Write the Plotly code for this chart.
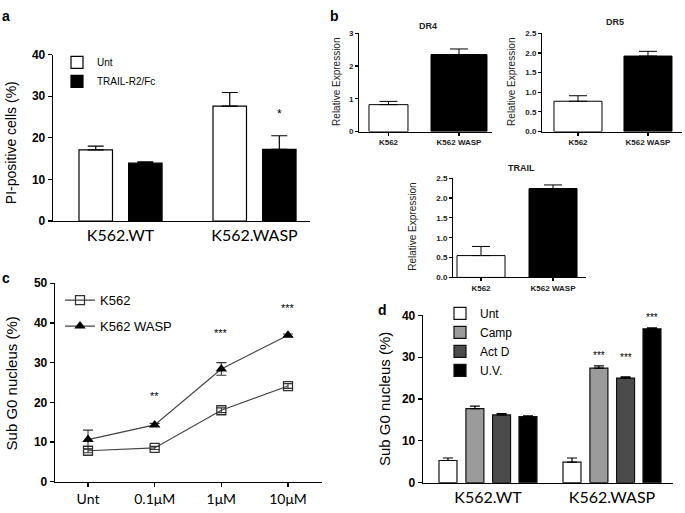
import plotly.graph_objects as go

W, H = 685, 513

# ---------------- data ----------------
# panel a
a_groups = ["K562.WT", "K562.WASP"]
a_unt = [17.1, 27.6]
a_unt_err = [0.9, 3.3]
a_trail = [13.9, 17.2]
a_trail_err = [0.3, 3.3]
a_sig = ["", "*"]
a_sig_y = [0, 28.0]

# panel b
b_cells = ["K562", "K562 WASP"]
dr4 = [0.82, 2.35]
dr4_err = [0.10, 0.17]
dr5 = [0.77, 1.92]
dr5_err = [0.14, 0.12]
trail = [0.55, 2.24]
trail_err = [0.23, 0.09]

# panel c
c_doses = ["Unt", "0.1μM", "1μM", "10μM"]
c_k562 = [7.8, 8.5, 18.0, 24.1]
c_k562_err = [0.5, 0.4, 0.6, 0.6]
c_wasp = [10.6, 14.3, 28.4, 36.9]
c_wasp_err = [2.4, 0.4, 1.6, 0.3]
c_sig = ["", "**", "***", "***"]
c_sig_y = [0, 21.6, 39.5, 45.9]

# panel d
d_groups = ["K562.WT", "K562.WASP"]
d_treat = ["Unt", "Camp", "Act D", "U.V."]
d_wt = [5.3, 17.7, 16.2, 15.8]
d_wt_err = [0.6, 0.6, 0.3, 0.2]
d_wasp = [4.9, 27.4, 25.0, 36.8]
d_wasp_err = [1.0, 0.5, 0.3, 0.2]
d_sig = ["", "***", "***", "***"]
d_sig_y = [0, 32.3, 31.7, 41.2]

# ---------------- helpers ----------------
def xdom(l, r):
    return [l / W, r / W]


def ydom(t, b):
    return [1 - b / H, 1 - t / H]


ARIAL = "Liberation Sans, Arial, sans-serif"
CAL = "Lato, Open Sans, sans-serif"

fig = go.Figure()
line_k = dict(color="black", width=1.2)


def err(arr):
    return dict(type="data", symmetric=False, array=arr, arrayminus=[0] * len(arr),
                color="black", thickness=1.2, width=8)


# ---------------- panel a ----------------
a_w = 0.25
a_offs = [-0.31, 0.06]
fig.add_trace(go.Bar(x=a_groups, y=a_unt, name="Unt", width=a_w, offset=a_offs[0],
                     marker=dict(color="white", line=line_k), error_y=err(a_unt_err),
                     xaxis="x", yaxis="y", legend="legend"))
fig.add_trace(go.Bar(x=a_groups, y=a_trail, name="TRAIL-R2/Fc", width=a_w, offset=a_offs[1],
                     marker=dict(color="black", line=line_k), error_y=err(a_trail_err),
                     xaxis="x", yaxis="y", legend="legend"))

# ---------------- panel b ----------------
b_specs = [
    ("x2", "y2", dr4, dr4_err, [0.553, 0.794]),
    ("x3", "y3", dr5, dr5_err, [0.686, 0.686]),
    ("x4", "y4", trail, trail_err, [0.667, 0.667]),
]
for xa, ya, vals, errs, widths in b_specs:
    fig.add_trace(go.Bar(x=b_cells, y=vals, width=widths, showlegend=False,
                         marker=dict(color=["white", "black"], line=dict(color="black", width=1.0)),
                         error_y=dict(type="data", symmetric=False, array=errs, arrayminus=[0, 0],
                                      color="black", thickness=1.0, width=9),
                         xaxis=xa, yaxis=ya))

# ---------------- panel c ----------------
fig.add_trace(go.Scatter(x=c_doses, y=c_k562, name="K562", mode="lines+markers", legendgroup="k",
                         line=dict(color="#444", width=1.2),
                         marker=dict(symbol="square-open", size=9, color="#333", line=dict(width=1.3)),
                         error_y=dict(type="data", array=c_k562_err, color="#333", thickness=1.1, width=5),
                         xaxis="x5", yaxis="y5", legend="legend2"))
fig.add_trace(go.Scatter(x=c_doses, y=c_wasp, name="K562 WASP", mode="lines+markers", legendgroup="w",
                         line=dict(color="#444", width=1.2),
                         marker=dict(symbol="triangle-up", size=10, color="black"),
                         error_y=dict(type="data", array=c_wasp_err, color="#333", thickness=1.1, width=5),
                         xaxis="x5", yaxis="y5", legend="legend2"))

# ---------------- panel d ----------------
d_colors = ["white", "#9b9b9b", "#4b4b4b", "black"]
d_w = 0.145
d_offs = [-0.395, -0.178, 0.037, 0.25]
for i, t in enumerate(d_treat):
    fig.add_trace(go.Bar(x=d_groups, y=[d_wt[i], d_wasp[i]], name=t, width=d_w, offset=d_offs[i],
                         marker=dict(color=d_colors[i], line=dict(color="#111", width=1.2)),
                         error_y=dict(type="data", symmetric=False, array=[d_wt_err[i], d_wasp_err[i]],
                                      arrayminus=[0, 0], color="black", thickness=1.2, width=5),
                         xaxis="x6", yaxis="y6", legend="legend3"))

# ---------------- axes ----------------
base = dict(showline=True, linecolor="black", linewidth=1.3, showgrid=False, zeroline=False,
            ticks="outside", ticklen=4, tickwidth=1.2, tickcolor="black")
ytf = dict(family=ARIAL, size=12, color="black", weight="bold")
btf = dict(family=ARIAL, size=8, color="#222", weight="bold")

fig.update_layout(
    xaxis=dict(base, domain=xdom(53, 310), anchor="y", range=[-0.504, 1.414], ticks="",
               tickfont=dict(family=CAL, size=16, color="black")),
    yaxis=dict(base, domain=ydom(49, 220), anchor="x", range=[0, 40], tickvals=[0, 10, 20, 30, 40],
               tickfont=ytf),
    xaxis2=dict(base, domain=xdom(359, 492), anchor="y2", range=[-0.418, 1.468], ticklen=3,
                tickfont=btf, linewidth=1.0),
    yaxis2=dict(base, domain=ydom(27, 128), anchor="x2", range=[0, 3], tickvals=[0, 1, 2, 3],
                tickfont=btf, ticklen=3, linewidth=1.0),
    xaxis3=dict(base, domain=xdom(542, 682), anchor="y3", range=[-0.514, 1.486], ticklen=3,
                tickfont=btf, linewidth=1.0),
    yaxis3=dict(base, domain=ydom(27, 128), anchor="x3", range=[0, 2.5],
                tickvals=[0, 0.5, 1, 1.5, 2, 2.5], tickformat=".1f", tickfont=btf, ticklen=3, linewidth=1.0),
    xaxis4=dict(base, domain=xdom(453, 586), anchor="y4", range=[-0.389, 1.458], ticklen=3,
                tickfont=btf, linewidth=1.0),
    yaxis4=dict(base, domain=ydom(176, 278), anchor="x4", range=[0, 2.5],
                tickvals=[0, 0.5, 1, 1.5, 2, 2.5], tickformat=".1f", tickfont=btf, ticklen=3, linewidth=1.0),
    xaxis5=dict(base, domain=xdom(55, 322), anchor="y5", range=[-0.495, 3.51],
                tickfont=dict(family=CAL, size=14, color="black")),
    yaxis5=dict(base, domain=ydom(284, 488), anchor="x5", range=[0, 50],
                tickvals=[0, 10, 20, 30, 40, 50], tickfont=ytf),
    xaxis6=dict(base, domain=xdom(423, 673), anchor="y6", range=[-0.524, 1.492], ticks="",
                tickfont=dict(family=CAL, size=16, color="black")),
    yaxis6=dict(base, domain=ydom(317, 489), anchor="x6", range=[0, 40],
                tickvals=[0, 10, 20, 30, 40], tickfont=ytf),
)

# ---------------- legends ----------------
leg = dict(bgcolor="rgba(0,0,0,0)", xanchor="left", yanchor="top", itemclick=False)
fig.update_layout(
    legend=dict(leg, x=57 / W, y=1 - 42 / H, font=dict(family=ARIAL, size=10, color="black")),
    legend2=dict(leg, x=60 / W, y=1 - 286 / H, font=dict(family=ARIAL, size=13, color="black"),
                 tracegroupgap=6),
    legend3=dict(leg, x=440 / W, y=1 - 300 / H, font=dict(family=ARIAL, size=12, color="black"),
                 tracegroupgap=0),
)

# ---------------- annotations ----------------
ann = []


def txt(x, y, s, size, family=ARIAL, bold=False, angle=0, color="black"):
    ann.append(dict(x=x / W, y=1 - y / H, xref="paper", yref="paper", text=s, showarrow=False,
                    textangle=angle, xanchor="center", yanchor="middle",
                    font=dict(family=family, size=size, color=color, weight="bold" if bold else "normal")))


# panel letters
txt(6, 9, "a", 14, bold=True)
txt(334, 9, "b", 14, bold=True)
txt(6, 279, "c", 14, bold=True)
txt(382, 312, "d", 14, bold=True)

# y titles
txt(11, 140, "PI-positive cells (%)", 14, angle=-90)
txt(337, 77, "Relative Expression", 10, angle=-90, color="#222")
txt(512, 77, "Relative Expression", 10, angle=-90, color="#222")
txt(413, 226, "Relative Expression", 10, angle=-90, color="#222")
txt(11, 387, "Sub G0 nucleus (%)", 15, angle=-90)
txt(384, 403, "Sub G0 nucleus (%)", 15, angle=-90)

# panel b titles
txt(428, 20, "DR4", 9, bold=True, color="#222")
txt(615, 15, "DR5", 9, bold=True, color="#222")
txt(521, 166, "TRAIL", 9, bold=True, color="#222")

# significance stars (x in data units, y relative to the axis height)
for i, s in enumerate(a_sig):
    if s:
        ann.append(dict(x=i + a_offs[1] + a_w / 2, y=a_sig_y[i] / 40, xref="x", yref="y domain",
                        text=s, showarrow=False, font=dict(family=ARIAL, size=12, color="black")))
for i, s in enumerate(c_sig):
    if s:
        ann.append(dict(x=i, y=c_sig_y[i] / 50, xref="x5", yref="y5 domain", text=s, showarrow=False,
                        font=dict(family=ARIAL, size=11, color="black")))
for i, s in enumerate(d_sig):
    if s:
        ann.append(dict(x=1 + d_offs[i] + d_w / 2, y=d_sig_y[i] / 40, xref="x6", yref="y6 domain", text=s,
                        showarrow=False, font=dict(family=ARIAL, size=10, color="black")))

fig.update_layout(
    annotations=ann,
    width=W, height=H, autosize=False,
    margin=dict(l=0, r=0, t=0, b=0),
    paper_bgcolor="white", plot_bgcolor="white",
    barmode="overlay",
    font=dict(family=ARIAL, color="black"),
)

fig.write_html("out.html", config={"displayModeBar": False, "staticPlot": True},
               post_script="document.body.style.margin='0';document.body.style.padding='0';")
